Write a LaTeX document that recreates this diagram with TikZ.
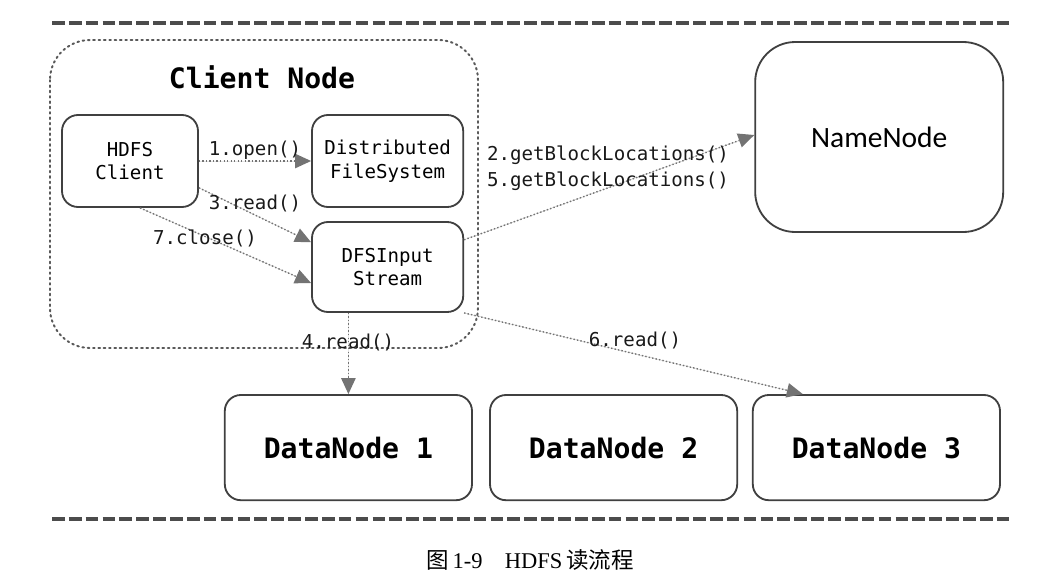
\documentclass[tikz,border=0pt]{standalone}
\usepackage{fontspec}
\setmainfont{Liberation Serif}
\setmonofont{DejaVu Sans Mono}
\newfontfamily\cjk{Noto Sans CJK SC}
\newfontfamily\calib{Carlito}
\usetikzlibrary{arrows.meta,positioning}
\tikzset{
  box/.style={draw=black!75, line width=1.3pt, rounded corners=0.4cm, align=center,
    font=\ttfamily\fontsize{13.6}{17}\selectfont},
  datanode/.style={box, minimum width=6.18cm, minimum height=2.63cm,
    font=\ttfamily\bfseries\fontsize{20}{24}\selectfont},
  flow/.style={-{Triangle[length=0.4cm,width=0.36cm]}, draw=black!55, fill=black!75,
    line width=1pt, dash pattern=on 1pt off 1.5pt},
  lbl/.style={font=\ttfamily\fontsize{13.6}{17}\selectfont, text=black!90},
  border/.style={draw=black!70, line width=2.2pt, dash pattern=on 9pt off 3pt}
}
\begin{document}
\begin{tikzpicture}
  \useasboundingbox (0,0) rectangle (26.525,-14.425);
  \draw[border] (1.3,-0.575) -- (25.3,-0.575);
  \draw[border] (1.3,-12.975) -- (25.3,-12.975);
  \draw[black!65, line width=1.4pt, dash pattern=on 1.2pt off 2.6pt, line cap=round, rounded corners=1cm]
    (1.25,-1.0) rectangle (11.95,-8.7);
  \node[font=\ttfamily\bfseries\fontsize{20}{24}\selectfont] at (6.55,-1.93) (title) {Client Node};
  \node[box, minimum width=3.4cm, minimum height=2.3cm] at (3.25,-4.025) (hdfs) {HDFS\\Client};
  \node[box, minimum width=3.78cm, minimum height=2.3cm] at (9.69,-4.025) (dfs) {Distributed\\FileSystem};
  \node[box, minimum width=3.78cm, minimum height=2.25cm] at (9.69,-6.675) (dfsin) {DFSInput\\Stream};
  \node[box, rounded corners=1cm, minimum width=6.2cm, minimum height=4.75cm,
    font=\calib\fontsize{21}{25}\selectfont] at (21.98,-3.425) (nn) {NameNode};
  \node[datanode] at (8.71,-11.19) (dn1) {DataNode 1};
  \node[datanode] at (15.34,-11.19) (dn2) {DataNode 2};
  \node[datanode] at (21.91,-11.19) (dn3) {DataNode 3};
  \draw[flow] (hdfs.east) -- (dfs.west);
  \draw[flow] ([yshift=-0.67cm]hdfs.east) -- ([yshift=0.62cm]dfsin.west);
  \draw[flow] ([xshift=0.25cm]hdfs.south) -- ([yshift=-0.4cm]dfsin.west);
  \draw[flow] ([yshift=0.68cm]dfsin.east) -- ([yshift=0.05cm]nn.west);
  \draw[flow] (dn1.north |- dfsin.south) -- (dn1.north);
  \draw[flow] (dfsin.south east) -- ([xshift=-1.84cm]dn3.north);
  \node[lbl] at (6.375,-3.75) (l1) {1.open()};
  \node[lbl] at (6.375,-5.075) (l3) {3.read()};
  \node[lbl] at (5.125,-5.95) (l7) {7.close()};
  \node[lbl] at (15.2,-3.875) (l2) {2.getBlockLocations()};
  \node[lbl] at (15.2,-4.525) (l5) {5.getBlockLocations()};
  \node[lbl] at (8.7,-8.55) (l4) {4.read()};
  \node[lbl] at (15.875,-8.5) (l6) {6.read()};
  \node[font=\fontsize{16}{19}\selectfont] at (13.25,-14.0) (cap) {{\cjk 图}\,1-9\quad HDFS\,{\cjk 读流程}};
\end{tikzpicture}
\end{document}
